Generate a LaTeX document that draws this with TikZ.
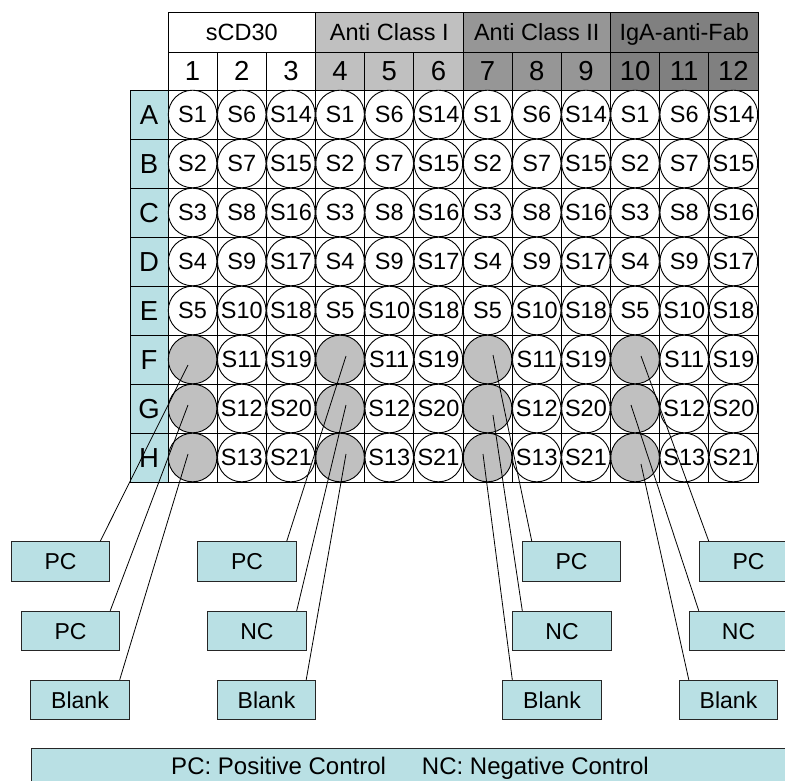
\documentclass[tikz,border=0pt]{standalone}
\usepackage{fontspec}
\setmainfont{Liberation Sans}
\usetikzlibrary{calc}
\definecolor{lblue}{RGB}{185,224,228}
\definecolor{gA}{RGB}{192,192,192}
\definecolor{gB}{RGB}{150,150,150}
\definecolor{gC}{RGB}{128,128,128}
\begin{document}
\begin{tikzpicture}[x=1pt,y=-1pt,
  gridline/.style={draw=black,line width=0.9pt},
  hdr/.style={draw=black,line width=0.9pt,minimum height=40pt,inner sep=0pt,
    font=\fontsize{23.5}{28}\selectfont,text height=16.8pt,text depth=0pt},
  numcell/.style={draw=black,line width=0.9pt,minimum width=49.1667pt,minimum height=38pt,inner sep=0pt,
    font=\fontsize{27.5}{32}\selectfont,text height=19.7pt,text depth=0pt},
  rowlab/.style={draw=black,line width=0.9pt,fill=lblue,minimum width=38pt,minimum height=49pt,inner sep=0pt,
    font=\fontsize{27.5}{32}\selectfont,text height=19.7pt,text depth=0pt},
  well/.style={circle,draw=black,line width=0.9pt,minimum size=48.6pt,inner sep=0pt,
    font=\fontsize{23.5}{28}\selectfont,text height=16.8pt,text depth=0pt},
  tagbox/.style={draw=black!85,line width=0.9pt,fill=lblue,minimum width=98.5pt,minimum height=39.5pt,inner sep=0pt,
    font=\fontsize{23}{28}\selectfont,text height=16.5pt,text depth=0pt},
  legendbox/.style={draw=black!85,line width=0.9pt,fill=lblue,minimum width=758pt,minimum height=42pt,inner sep=0pt},
  legendtext/.style={inner sep=0pt,font=\fontsize{24}{28}\selectfont,text height=17.2pt,text depth=0pt},
  callout/.style={draw=black,line width=0.8pt}
]
\path[use as bounding box] (0,0) rectangle (785,780);
\clip (0,0) rectangle (785,780);

% group header row
\node[hdr,fill=white,minimum width=147.5pt] (g1) at (241.75,32) {sCD30};
\node[hdr,fill=gA,minimum width=147.5pt] (g2) at (389.25,32) {Anti Class I};
\node[hdr,fill=gB,minimum width=147.5pt] (g3) at (536.75,32) {Anti Class II};
\node[hdr,fill=gC,minimum width=147.5pt] (g4) at (684.25,32) {IgA-anti-Fab};

% column numbers
\foreach \c/\fc in {1/white,2/white,3/white,4/gA,5/gA,6/gA,7/gB,8/gB,9/gB,10/gC,11/gC,12/gC}{
  \pgfmathsetmacro\xx{168+(\c-0.5)*49.1667}
  \node[numcell,fill=\fc] (n\c) at (\xx,71) {\c};
}

% row letters
\foreach \l [count=\r] in {A,B,C,D,E,F,G,H}{
  \pgfmathsetmacro\yy{90+(\r-0.5)*49}
  \node[rowlab] (r\l) at (149,\yy) {\l};
}

% cells
\foreach \c in {1,...,12}{
  \foreach \r in {1,...,8}{
    \pgfmathsetmacro\xx{168+(\c-1)*49.1667}
    \pgfmathsetmacro\yy{90+(\r-1)*49}
    \draw[gridline,fill=white] (\xx,\yy) rectangle ++(49.1667,49);
  }
}

% wells
\foreach \c in {1,...,12}{
  \foreach \r in {1,...,8}{
    \pgfmathtruncatemacro\t{mod(\c-1,3)}
    \pgfmathtruncatemacro\lab{\t==0 ? \r : (\t==1 ? \r+5 : \r+13)}
    \pgfmathsetmacro\xx{168+(\c-0.5)*49.1667}
    \pgfmathsetmacro\yy{90+(\r-0.5)*49}
    \ifnum\t=0
      \ifnum\r>5 \def\fc{gA}\def\tx{}\else\def\fc{white}\def\tx{S\lab}\fi
    \else
      \def\fc{white}\def\tx{S\lab}
    \fi
    \node[well,fill=\fc] (w\r-\c) at (\xx,\yy) {\tx};
  }
}

% callout start points inside grey wells
\coordinate (p1F) at (188,365);
\coordinate (p1G) at (188,405);
\coordinate (p1H) at (188,454);
\coordinate (p4F) at (346,356);
\coordinate (p4G) at (346,405);
\coordinate (p4H) at (346,454);
\coordinate (p7F) at (493,355);
\coordinate (p7G) at (493,415);
\coordinate (p7H) at (483,454);
\coordinate (p10F) at (641,356);
\coordinate (p10G) at (631,405);
\coordinate (p10H) at (641,464);

% tag boxes
\node[tagbox] (b1F) at (60.5,561.5) {PC};
\node[tagbox] (b1G) at (70.5,631) {PC};
\node[tagbox] (b1H) at (80,700) {Blank};
\node[tagbox] (b4F) at (247,561.5) {PC};
\node[tagbox] (b4G) at (257,631) {NC};
\node[tagbox] (b4H) at (266.5,700) {Blank};
\node[tagbox] (b7F) at (571.5,561.5) {PC};
\node[tagbox] (b7G) at (562,631) {NC};
\node[tagbox] (b7H) at (552,700) {Blank};
\node[tagbox] (b10F) at (748.5,561.5) {PC};
\node[tagbox] (b10G) at (738.5,631) {NC};
\node[tagbox] (b10H) at (728.5,700) {Blank};

% callout lines
\foreach \c in {1,4}{
  \foreach \r in {F,G,H}{
    \draw[callout] (p\c\r) -- ($(b\c\r.north east)+(-10,0)$);
  }
}
\foreach \c in {7,10}{
  \foreach \r in {F,G,H}{
    \draw[callout] (p\c\r) -- ($(b\c\r.north west)+(10,0)$);
  }
}

% legend
\node[legendbox] (leg) at (410,769) {};
\node[legendtext] (legtxt) at (410,765.5) {PC: Positive Control\hspace{36pt}NC: Negative Control};
\end{tikzpicture}
\end{document}
